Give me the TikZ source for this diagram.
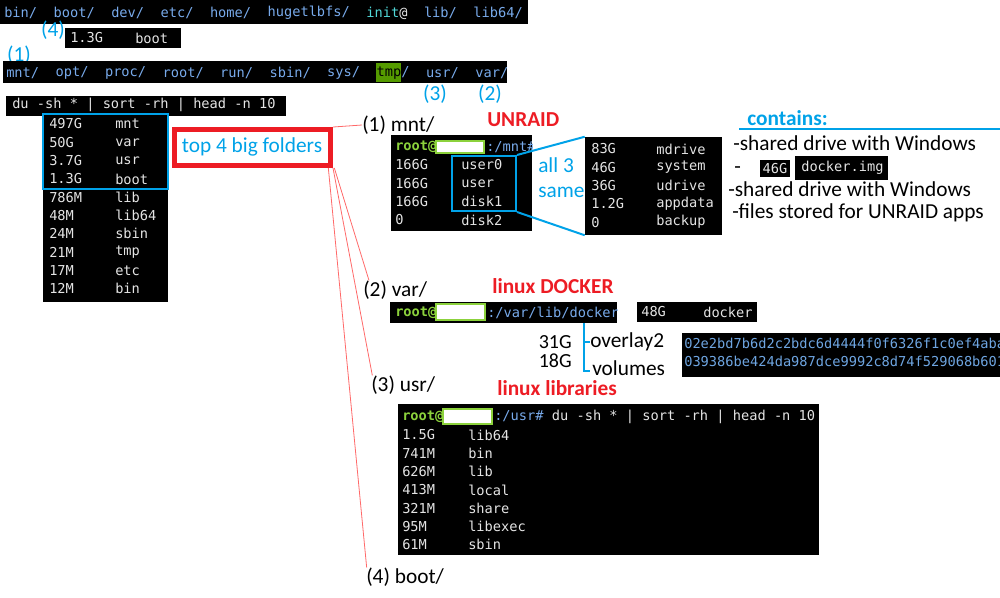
\documentclass[tikz,border=0pt]{standalone}
\usepackage{fontspec}
\setmainfont{Carlito}
\setmonofont{DejaVu Sans Mono}
\usetikzlibrary{fit}
\definecolor{lsb}{RGB}{120,170,235}
\definecolor{cyn}{RGB}{80,215,215}
\definecolor{termw}{RGB}{228,228,228}
\definecolor{rgreen}{RGB}{140,210,60}
\definecolor{cblue}{RGB}{0,162,232}
\definecolor{cred}{RGB}{237,28,36}
\definecolor{lred}{RGB}{255,105,105}
\definecolor{hashb}{RGB}{110,165,225}
\definecolor{tmpg}{RGB}{85,155,0}
\begin{document}
\begin{tikzpicture}[x=0.75pt,y=-0.75pt,
  mono/.style={font=\fontsize{10.25}{12}\selectfont\ttfamily, inner sep=0pt, anchor=west, text=termw},
  rootg/.style={mono, text=rgreen, font=\fontsize{10.25}{12}\selectfont\ttfamily\bfseries},
  sans/.style={font=\fontsize{16}{19}\selectfont, inner sep=0pt, anchor=west},
  bluetxt/.style={sans, text=cblue},
  redtitle/.style={sans, text=cred, font=\fontsize{16}{19}\selectfont\bfseries},
  term/.style={fill=black},
  hidebox/.style={draw=rgreen, line width=1.5pt, fill=white},
  redline/.style={draw=lred, line width=0.6pt},
  blueline/.style={draw=cblue, line width=1.5pt}]
\useasboundingbox (0,0) rectangle (1000,597);
\def\cw{8.23}
% ---------- top ls bar ----------
\fill[term] (0,0) rectangle (528,24);
\foreach \o/\t in {0/bin,6/boot,13/dev,19/etc,25/home,32/hugetlbfs,51/lib,57/lib64}
  \node[mono,text=lsb] (tb-\t) at ({4+\cw*\o},13) {\t/};
\node[mono,text=cyn] (tb-init) at ({4+\cw*44},13) {init\textcolor{termw}{@}};
\node[bluetxt,anchor=center] (n4) at (53,30) {(4)};
\fill[term] (65,28) rectangle (181,48);
\node[mono] (bootsz) at (70,38) {1.3G};
\node[mono] (bootnm) at (135,38) {boot};
\node[bluetxt,anchor=center] (n1) at (19,55) {(1)};
% ---------- second ls bar ----------
\fill[term] (3,61) rectangle (507,83);
\fill[tmpg] (376,63) rectangle (401,82);
\foreach \o/\t in {0/mnt,6/opt,12/proc,19/root,26/run,32/sbin,39/sys,51/usr,57/var}
  \node[mono,text=lsb] (sb-\t) at ({6+\cw*\o},73) {\t/};
\node[mono] (sb-tmp) at ({6+\cw*45},73) {\textcolor{black}{tmp}\textcolor{lsb}{/}};
\node[bluetxt,anchor=center] (n3) at (435,94) {(3)};
\node[bluetxt,anchor=center] (n2) at (490,94) {(2)};
% ---------- du command + list ----------
\fill[term] (6,96) rectangle (286,116);
\node[mono] (ducmd) at (12,105) {du -sh * | sort -rh | head -n 10};
\fill[term] (43,113) rectangle (168,302);
\foreach \s/\n [count=\i from 0] in {497G/mnt,50G/var,3.7G/usr,1.3G/boot,786M/lib,48M/lib64,24M/sbin,21M/tmp,17M/etc,12M/bin}{
  \node[mono] (ls-s\i) at (49,{124+18.3*\i}) {\s};
  \node[mono] (ls-n\i) at (115,{124+18.3*\i}) {\n};
}
\draw[cblue, line width=2pt] (43,114) rectangle (168,189);
% ---------- red box ----------
\node[fit={(174.5,129.5)(330.5,165.5)}, inner sep=0pt, draw=cred, line width=3.75pt] (redbox) {};
\node[bluetxt,anchor=center] (redtxt) at (252,147) {top 4 big folders};
% ---------- labels ----------
\node[sans] (l1) at (362,125) {(1) mnt/};
\node[sans] (l2) at (363,290) {(2) var/};
\node[sans] (l3) at (371,385) {(3) usr/};
\node[sans] (l4) at (366,577) {(4) boot/};
\draw[redline] (redbox.north east) -- (l1.west);
\draw[redline] ([xshift=1pt]redbox.south east) -- ([xshift=4.5pt]l2.north west);
\draw[redline] ([xshift=0pt]redbox.south east) -- ([xshift=1pt]l3.north west);
\draw[redline] ([xshift=-3.5pt]redbox.south east) -- ([xshift=0.5pt]l4.north west);
% ---------- UNRAID / mnt ----------
\node[redtitle] (t1) at (487,120) {UNRAID};
\begin{scope}
\clip (391,135) rectangle (532,231);
\fill[term] (391,135) rectangle (532,231);
\node[rootg] (m-root) at (395,147) {root@};
\draw[hidebox] (436,141) rectangle (484,153);
\node[mono,text=lsb] (m-path) at (486,147) {:/mnt\#};
\foreach \s/\n [count=\i from 0] in {166G/user0,166G/user,166G/disk1,0/disk2}{
  \node[mono] (m-s\i) at (395,{165+18.3*\i}) {\s};
  \node[mono] (m-n\i) at (461,{165+18.3*\i}) {\n};
}
\end{scope}
\node[fit={(452,156)(516,211)}, inner sep=0pt, draw=cblue, line width=1.5pt] (bluebox) {};
\node[bluetxt] (all3) at (538,165) {all 3};
\node[bluetxt] (same) at (538,192) {same};
\fill[term] (585,137) rectangle (722,235);
\node[fit={(585,137)(722,235)}, inner sep=0pt] (rbox) {};
\foreach \s/\n [count=\i from 0] in {83G/mdrive,46G/system,36G/udrive,1.2G/appdata,0/backup}{
  \node[mono] (r-s\i) at (591,{149+18.3*\i}) {\s};
  \node[mono] (r-n\i) at (656,{149+18.3*\i}) {\n};
}
\draw[blueline] (bluebox.north east) -- (rbox.north west);
\draw[blueline] (bluebox.south east) -- (rbox.south west);
% ---------- contains ----------
\node[sans, text=cblue, font=\fontsize{16}{19}\selectfont\bfseries] (cont) at (747,118) {contains:};
\draw[cblue, line width=1.5pt] (739,129) -- (1000,129);
\node[sans] (c1) at (733,143) {-shared drive with Windows};
\node[sans] (c2) at (734,170) {-};
\fill[term] (760,160) rectangle (790,177);
\node[mono,anchor=center] (c2a) at (775,168.5) {46G};
\fill[term] (795,156) rectangle (888,180);
\node[mono] (c2b) at (801,168) {docker.img};
\node[sans] (c3) at (728,189) {-shared drive with Windows};
\node[sans] (c4) at (732,213) {-files stored for UNRAID apps};
% ---------- docker ----------
\node[redtitle] (t2) at (492,286) {linux DOCKER};
\begin{scope}
\clip (390,302) rectangle (617,323);
\fill[term] (390,302) rectangle (617,323);
\node[rootg] (d-root) at (395,313) {root@};
\draw[hidebox] (436,304) rectangle (485,320);
\node[mono,text=lsb] (d-path) at (487,313) {:/var/lib/docker\#};
\end{scope}
\fill[term] (637,302) rectangle (757,322);
\node[mono] (d-sz) at (641,312) {48G};
\node[mono] (d-nm) at (703,312) {docker};
\node[sans,anchor=east,font=\fontsize{15}{17}\selectfont] (o-sz) at (572,342) {31G};
\node[sans,anchor=east,font=\fontsize{15}{17}\selectfont] (v-sz) at (572,361) {18G};
\draw[blueline] (584,323) -- (584,371) -- (590,371);
\draw[blueline] (584,342) -- (590,342);
\node[sans] (o-nm) at (590,342) {overlay2};
\node[sans] (v-nm) at (592,368) {volumes};
\begin{scope}
\clip (682,333) rectangle (1000,377);
\fill[term] (682,333) rectangle (1000,377);
\node[mono,text=hashb] (h1) at (684,343) {02e2bd7b6d2c2bdc6d4444f0f6326f1c0ef4aba};
\node[mono,text=hashb] (h2) at (684,361) {039386be424da987dce9992c8d74f529068b601};
\end{scope}
% ---------- usr ----------
\node[redtitle] (t3) at (497,388) {linux libraries};
\fill[term] (398,404) rectangle (819,555);
\node[rootg] (u-root) at (402,417) {root@};
\draw[hidebox] (443,409) rectangle (492,424);
\node[mono] (u-cmd) at (494,417) {\textcolor{lsb}{:/usr\#} du -sh * | sort -rh | head -n 10};
\foreach \s/\n [count=\i from 0] in {1.5G/lib64,741M/bin,626M/lib,413M/local,321M/share,95M/libexec,61M/sbin}{
  \node[mono] (u-s\i) at (402,{435+18.3*\i}) {\s};
  \node[mono] (u-n\i) at (468,{435+18.3*\i}) {\n};
}
\end{tikzpicture}
\end{document}
